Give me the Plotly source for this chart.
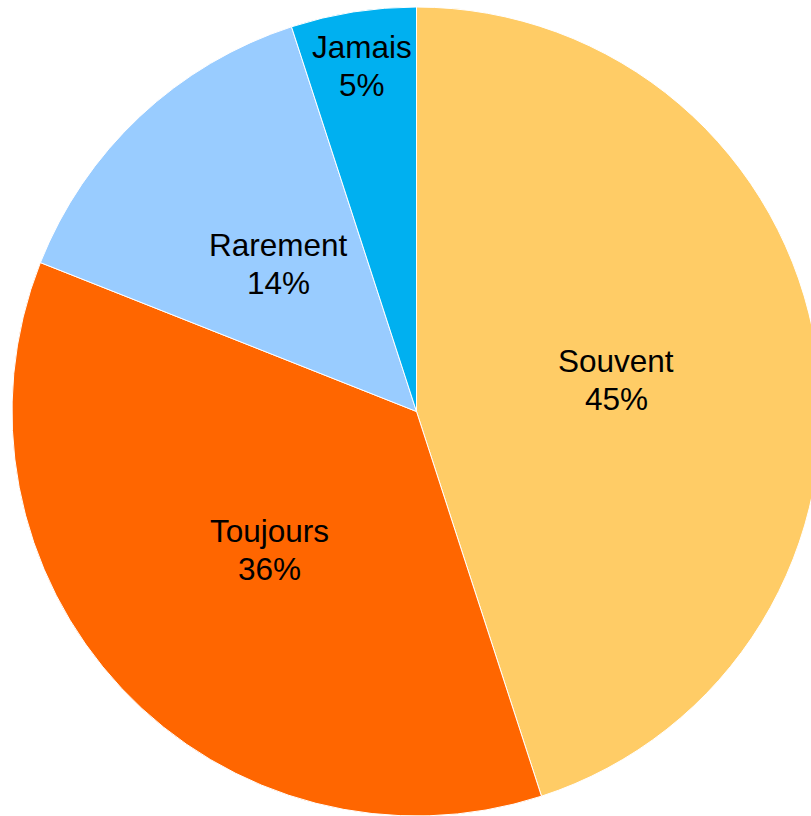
import math
import plotly.graph_objects as go

labels = ["Souvent", "Toujours", "Rarement", "Jamais"]
values = [45, 36, 14, 5]
colors = ["#FFCC66", "#FF6600", "#99CCFF", "#00B0F0"]
label_radius = [0.5, 0.5, 0.5, 0.866]  # fraction of pie radius where each label sits

FONT = dict(family="Liberation Sans, Arial, sans-serif", size=31.5, color="black")

fig = go.Figure(go.Pie(
    labels=labels,
    values=values,
    sort=False,
    direction="clockwise",
    rotation=0,
    marker=dict(colors=colors, line=dict(color="white", width=1)),
    textinfo="none",
    hoverinfo="label+percent",
    showlegend=False,
    domain=dict(x=[0, 1], y=[0, 1]),
))

total = sum(values)
cum = 0
for lab, v, f in zip(labels, values, label_radius):
    mid = (cum + v / 2) / total
    cum += v
    th = 2 * math.pi * mid
    x = 0.5 + 0.5 * f * math.sin(th)
    y = 0.5 + 0.5 * f * math.cos(th)
    pct = round(100 * v / total)
    fig.add_annotation(x=x, y=y, xref="paper", yref="paper", text=lab,
                       showarrow=False, font=FONT, yshift=19,
                       xanchor="center", yanchor="middle")
    fig.add_annotation(x=x, y=y, xref="paper", yref="paper", text=f"{pct}%",
                       showarrow=False, font=FONT, yshift=-19,
                       xanchor="center", yanchor="middle")

fig.update_layout(
    width=821,
    height=816,
    margin=dict(l=12, r=0, t=7, b=0),
    paper_bgcolor="white",
    plot_bgcolor="white",
    showlegend=False,
)

fig.write_html(
    "out.html",
    config={"displayModeBar": False},
    post_script="document.body.style.margin='0';"
                "document.body.style.overflow='hidden';"
                "document.documentElement.style.overflow='hidden';",
)
